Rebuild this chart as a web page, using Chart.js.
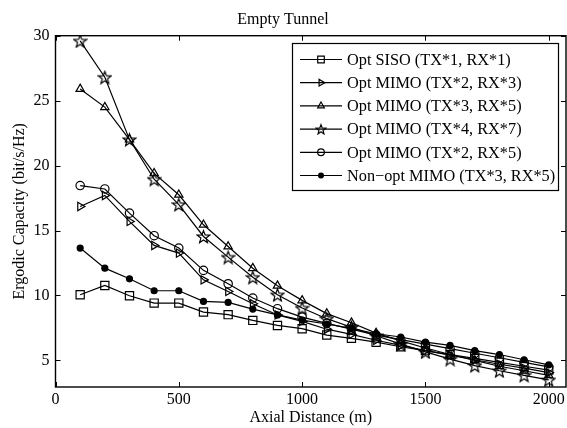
<!DOCTYPE html>
<html>
<head>
<meta charset="utf-8">
<script src="https://cdn.jsdelivr.net/npm/chart.js@4/dist/chart.umd.min.js"></script>
<style>
  html, body { margin: 0; padding: 0; background: #fff; }
  #wrap { width: 567px; height: 428px; position: relative; }
</style>
</head>
<body>
<div id="wrap"><canvas id="cap"></canvas></div>
<script>
// Axial distance (m)
const distances = [100, 200, 300, 400, 500, 600, 700, 800, 900, 1000,
                   1100, 1200, 1300, 1400, 1500, 1600, 1700, 1800, 1900, 2000];

// Ergodic capacity (bit/s/Hz)
const optSiso = [10.05, 10.77, 9.98, 9.41, 9.41, 8.72, 8.52, 8.08, 7.69, 7.44,
                 6.95, 6.7, 6.4, 6.05, 5.75, 5.45, 5.15, 4.85, 4.55, 4.25];
const optMimo23 = [16.85, 17.7, 15.7, 13.85, 13.26, 11.2, 10.31, 9.36, 8.5, 8.0,
                   7.4, 7.0, 6.55, 6.15, 5.75, 5.4, 5.05, 4.7, 4.4, 4.05];
const optMimo35 = [25.9, 24.5, 22.0, 19.4, 17.75, 15.44, 13.77, 12.1, 10.75, 9.62,
                   8.6, 7.9, 7.1, 6.5, 5.95, 5.45, 5.0, 4.55, 4.2, 3.85];
const optMimo47 = [29.6, 26.8, 22.0, 18.95, 17.0, 14.54, 12.95, 11.4, 10.05, 9.03,
                   8.21, 7.55, 6.9, 6.25, 5.65, 5.1, 4.6, 4.2, 3.85, 3.5];
const optMimo25 = [18.46, 18.2, 16.34, 14.6, 13.65, 11.93, 10.9, 9.8, 8.98, 8.33,
                   7.85, 7.4, 6.95, 6.6, 6.25, 5.9, 5.55, 5.2, 4.85, 4.5];
const nonOptMimo35 = [13.65, 12.1, 11.28, 10.36, 10.36, 9.54, 9.46, 8.95, 8.5, 8.1,
                      7.8, 7.46, 7.05, 6.8, 6.4, 6.15, 5.75, 5.45, 5.05, 4.65];

const seriesLabels = [
    'Opt SISO (TX*1, RX*1)',
    'Opt MIMO (TX*2, RX*3)',
    'Opt MIMO (TX*3, RX*5)',
    'Opt MIMO (TX*4, RX*7)',
    'Opt MIMO (TX*2, RX*5)',
    'Non\u2212opt MIMO (TX*3, RX*5)'
];
const xTicks = [0, 500, 1000, 1500, 2000];
const yTicks = [5, 10, 15, 20, 25, 30];

const FONT = '"Liberation Serif", "Times New Roman", serif';

// hollow pentagram marker (matlab style)
function makeStar(size) {
    const c = document.createElement('canvas');
    c.width = size; c.height = size;
    const g = c.getContext('2d');
    const cx = size / 2, cy = size / 2 + 0.7;
    const ro = size / 2 - 0.9, ri = ro * 0.42;
    g.beginPath();
    for (let i = 0; i < 10; i++) {
        const r = i % 2 === 0 ? ro : ri;
        const a = -Math.PI / 2 + i * Math.PI / 5;
        const px = cx + r * Math.cos(a), py = cy + r * Math.sin(a);
        if (i === 0) g.moveTo(px, py); else g.lineTo(px, py);
    }
    g.closePath();
    g.strokeStyle = '#000';
    g.lineWidth = 1.2;
    g.stroke();
    return c;
}
const starMarker = makeStar(15);
const starSmall = makeStar(12);

const clear = 'rgba(0,0,0,0)';
const styles = [
    { pointStyle: 'rect', radius: 5.8, rotation: 0, fill: clear },
    { pointStyle: 'triangle', radius: 4.8, rotation: 90, fill: clear },
    { pointStyle: 'triangle', radius: 4.8, rotation: 0, fill: clear },
    { pointStyle: starMarker, radius: 7, rotation: 0, fill: clear },
    { pointStyle: 'circle', radius: 4.2, rotation: 0, fill: clear },
    { pointStyle: 'circle', radius: 3, rotation: 0, fill: '#000' }
];
const seriesData = [optSiso, optMimo23, optMimo35, optMimo47, optMimo25, nonOptMimo35];

const datasets = seriesData.map((vals, i) => ({
    label: seriesLabels[i],
    data: vals.map((v, k) => ({ x: distances[k], y: v })),
    borderColor: '#000',
    borderWidth: 1.2,
    pointStyle: styles[i].pointStyle,
    pointRadius: styles[i].radius,
    pointRotation: styles[i].rotation,
    pointBackgroundColor: styles[i].fill,
    pointBorderColor: '#000',
    pointBorderWidth: 1.2,
    tension: 0
}));

// frame, inward ticks on all four sides, and the boxed legend
const matlabFrame = {
    id: 'matlabFrame',
    afterDatasetsDraw(chart) {
        const { ctx, chartArea: a, scales } = chart;
        ctx.save();
        ctx.strokeStyle = '#000';
        ctx.lineWidth = 1;
        ctx.beginPath();
        xTicks.forEach(t => {
            const px = Math.round(scales.x.getPixelForValue(t)) + 0.5;
            ctx.moveTo(px, a.bottom); ctx.lineTo(px, a.bottom - 5);
            ctx.moveTo(px, a.top); ctx.lineTo(px, a.top + 5);
        });
        yTicks.forEach(t => {
            const py = Math.round(scales.y.getPixelForValue(t)) + 0.5;
            ctx.moveTo(a.left, py); ctx.lineTo(a.left + 5, py);
            ctx.moveTo(a.right, py); ctx.lineTo(a.right - 5, py);
        });
        ctx.stroke();
        ctx.lineWidth = 1.4;
        ctx.strokeRect(a.left, a.top, a.right - a.left, a.bottom - a.top);

        // legend
        const lx = 292, ly = 43, lw = 266, lh = 147;
        ctx.fillStyle = '#fff';
        ctx.fillRect(lx, ly, lw, lh);
        ctx.lineWidth = 1.2;
        ctx.strokeRect(lx + 0.5, ly + 0.5, lw, lh);
        ctx.font = '16.3px ' + FONT;
        ctx.textBaseline = 'middle';
        ctx.textAlign = 'left';
        chart.data.datasets.forEach((ds, i) => {
            const ry = 59.5 + i * 23.2;
            ctx.beginPath();
            ctx.moveTo(300, ry); ctx.lineTo(342, ry);
            ctx.strokeStyle = '#000';
            ctx.lineWidth = 1.2;
            ctx.stroke();
            ctx.fillStyle = ds.pointBackgroundColor;
            ctx.strokeStyle = '#000';
            Chart.helpers.drawPoint(ctx, {
                pointStyle: i === 3 ? starSmall : ds.pointStyle,
                rotation: ds.pointRotation,
                radius: ds.pointRadius * 0.8,
                borderWidth: 1.2
            }, 321, ry);
            ctx.fillStyle = '#000';
            ctx.fillText(ds.label, 347, ry + 1);
        });
        ctx.restore();
    }
};

const noPad = s => { s.paddingLeft = 0; s.paddingRight = 0; };

new Chart(document.getElementById('cap'), {
    type: 'line',
    data: { datasets },
    options: {
        responsive: true,
        maintainAspectRatio: false,
        animation: false,
        layout: { autoPadding: false, padding: { top: 0, right: 1, left: 0, bottom: 0 } },
        plugins: {
            legend: { display: false },
            tooltip: { enabled: false },
            title: {
                display: true,
                text: 'Empty Tunnel',
                color: '#000',
                font: { family: FONT, size: 16, weight: 'normal' },
                padding: { top: 10.5, bottom: 6 }
            }
        },
        scales: {
            x: {
                type: 'linear',
                min: 0,
                max: 2070,
                afterBuildTicks: s => { s.ticks = xTicks.map(v => ({ value: v })); },
                grid: { display: false, drawTicks: false },
                border: { display: false },
                ticks: {
                    color: '#000', font: { family: FONT, size: 16 }, padding: 3, maxRotation: 0,
                    callback: v => String(v)
                },
                title: {
                    display: true,
                    text: 'Axial Distance (m)',
                    color: '#000',
                    font: { family: FONT, size: 16 },
                    padding: { top: 0, bottom: 1 }
                },
                afterFit: s => { s.height = 41; noPad(s); }
            },
            y: {
                min: 2.95,
                max: 30,
                afterBuildTicks: s => { s.ticks = yTicks.map(v => ({ value: v })); },
                grid: { display: false, drawTicks: false },
                border: { display: false },
                ticks: { color: '#000', font: { family: FONT, size: 16 }, padding: 6 },
                title: {
                    display: true,
                    text: 'Ergodic Capacity (bit/s/Hz)',
                    color: '#000',
                    font: { family: FONT, size: 16 },
                    padding: { top: 10, bottom: 4 }
                },
                afterFit: s => { s.width = 55.5; }
            }
        }
    },
    plugins: [matlabFrame]
});
</script>
</body>
</html>
